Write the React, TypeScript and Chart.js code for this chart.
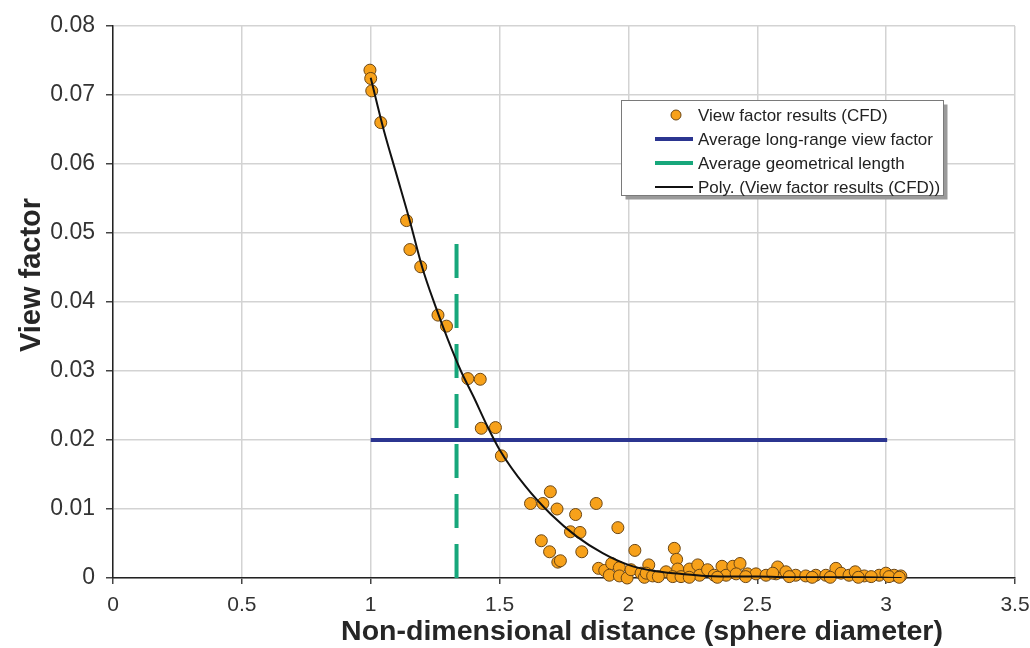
import React, { useEffect, useRef } from 'react';
import { Chart, registerables } from 'chart.js';

Chart.register(...registerables);

// ---- Data ----
const cfdX = [
  0.997, 1.000, 1.004, 1.039, 1.139, 1.152, 1.194, 1.261, 1.294, 1.377,
  1.425, 1.429, 1.484, 1.507, 1.620, 1.668, 1.697, 1.723, 1.795, 1.775,
  1.812, 1.875, 1.662, 1.694, 1.819, 1.726, 1.736, 1.959, 2.025, 1.884,
  1.908, 1.935, 1.926, 1.965, 1.965, 1.995, 2.010, 2.049, 2.062, 2.178,
  2.187, 2.191, 2.079, 2.069, 2.094, 2.146, 2.172, 2.204, 2.237, 2.269,
  2.276, 2.307, 2.333, 2.363, 2.379, 2.405, 2.433, 2.418, 2.462, 2.495,
  2.534, 2.573, 2.579, 2.560, 2.611, 2.649, 2.688, 2.727, 2.766, 2.805,
  2.825, 2.856, 2.880, 2.915, 2.973, 2.999, 3.031, 3.057, 2.624, 2.713,
  2.783, 2.116, 2.236, 2.455, 2.892, 2.942, 3.011, 3.051, 2.345,
];
const cfdY = [
  0.0736, 0.0724, 0.0706, 0.0660, 0.0518, 0.0476, 0.0451, 0.0381, 0.0365, 0.0289,
  0.0288, 0.0217, 0.0218, 0.0177, 0.0108, 0.0108, 0.0125, 0.0100, 0.0092, 0.0067,
  0.0066, 0.0108, 0.0054, 0.0038, 0.0038, 0.0023, 0.0025, 0.0073, 0.0040, 0.0014,
  0.0011, 0.0021, 0.0004, 0.0015, 0.0003, 0.0000, 0.0012, 0.0007, 0.0001, 0.0043,
  0.0027, 0.0013, 0.0019, 0.0007, 0.0003, 0.0009, 0.0002, 0.0002, 0.0013, 0.0019,
  0.0004, 0.0012, 0.0004, 0.0017, 0.0004, 0.0017, 0.0021, 0.0006, 0.0006, 0.0006,
  0.0004, 0.0006, 0.0016, 0.0007, 0.0009, 0.0004, 0.0003, 0.0004, 0.0004, 0.0014,
  0.0007, 0.0004, 0.0009, 0.0003, 0.0004, 0.0007, 0.0004, 0.0003, 0.0002, 0.0001,
  0.0001, 0.0002, 0.0001, 0.0002, 0.0001, 0.0002, 0.0002, 0.0001, 0.0001,
];

// Polynomial trendline
const polyX = [1.0, 1.05, 1.1, 1.15, 1.2, 1.25, 1.3, 1.35, 1.4, 1.45, 1.5, 1.6, 1.7, 1.8, 1.9, 2.0, 2.1, 2.2, 2.3, 2.5, 2.7, 2.9, 3.06];
const polyY = [0.0725, 0.0650, 0.0585, 0.0520, 0.0450, 0.0395, 0.0345, 0.0300, 0.0262, 0.0222, 0.0186, 0.0133, 0.0092, 0.0060, 0.0036, 0.0019, 0.0010, 0.0006, 0.0003, 0.0002, 0.0001, 0.0001, 0.0000];

const avgViewX = [1.0, 3.004];
const avgViewY = [0.02, 0.02];

const geomLenX = [1.333, 1.333];
const geomLenY = [0, 0.0487];

const seriesLabels = [
  'View factor results (CFD)',
  'Average long-range view factor',
  'Average geometrical length',
  'Poly. (View factor results (CFD))',
];

const xAxisTitle = 'Non-dimensional distance (sphere diameter)';
const yAxisTitle = 'View factor';

const X_MIN = 0, X_MAX = 3.5, X_STEP = 0.5;
const Y_MIN = 0, Y_MAX = 0.08, Y_STEP = 0.01;

const zip = (xs: number[], ys: number[]) => xs.map((x, i) => ({ x, y: ys[i] }));

const FONT = '"Liberation Sans", Arial, sans-serif';

const decorPlugin = {
  id: 'decor',
  afterDraw(chart: any) {
    const ctx = chart.ctx as CanvasRenderingContext2D;
    const ds = chart.data.datasets;
    ctx.save();
    // axis titles
    ctx.fillStyle = '#262626';
    ctx.textAlign = 'center';
    ctx.textBaseline = 'middle';
    ctx.font = `bold 28.5px ${FONT}`;
    ctx.fillText(xAxisTitle, 642, 632);
    ctx.save();
    ctx.font = `bold 29px ${FONT}`;
    ctx.translate(32, 275);
    ctx.rotate(-Math.PI / 2);
    ctx.fillText(yAxisTitle, 0, 0);
    ctx.restore();

    // legend box
    const lx = 621.5, ly = 100.5, lw = 322, lh = 95;
    ctx.fillStyle = '#9a9a9a';
    ctx.fillRect(lx + 4, ly + 4, lw, lh);
    ctx.fillStyle = '#ffffff';
    ctx.fillRect(lx, ly, lw, lh);
    ctx.strokeStyle = '#7a7a7a';
    ctx.lineWidth = 1;
    ctx.strokeRect(lx, ly, lw, lh);

    const rowY = [115, 139, 163, 187];
    ctx.font = `17px ${FONT}`;
    ctx.textAlign = 'left';
    ctx.textBaseline = 'middle';
    ds.forEach((d: any, i: number) => {
      const y = rowY[i];
      if (d.showLine === false) {
        ctx.beginPath();
        ctx.arc(676, y, 5, 0, Math.PI * 2);
        ctx.fillStyle = d.backgroundColor;
        ctx.fill();
        ctx.strokeStyle = d.borderColor;
        ctx.lineWidth = 1;
        ctx.stroke();
      } else {
        ctx.beginPath();
        ctx.moveTo(655, y);
        ctx.lineTo(693, y);
        ctx.strokeStyle = d.borderColor;
        ctx.lineWidth = d.borderWidth;
        ctx.setLineDash([]);
        ctx.stroke();
      }
      ctx.fillStyle = '#222';
      ctx.fillText(d.label, 698, y + 1);
    });
    ctx.restore();
  },
};

export default function App() {
  const ref = useRef<HTMLCanvasElement | null>(null);

  useEffect(() => {
    document.body.style.margin = '0';
    if (!ref.current) return;
    const chart = new Chart(ref.current, {
      type: 'scatter',
      data: {
        datasets: [
          {
            label: seriesLabels[0],
            data: zip(cfdX, cfdY),
            showLine: false,
            pointRadius: 6,
            pointHoverRadius: 6,
            backgroundColor: '#f7a11a',
            borderColor: '#6b4614',
            borderWidth: 1,
            clip: false,
            order: 3,
          },
          {
            label: seriesLabels[1],
            data: zip(avgViewX, avgViewY),
            showLine: true,
            pointRadius: 0,
            borderColor: '#2b3590',
            backgroundColor: '#2b3590',
            borderWidth: 4,
            order: 2,
          },
          {
            label: seriesLabels[2],
            data: zip(geomLenX, geomLenY),
            showLine: true,
            pointRadius: 0,
            borderColor: '#17a77b',
            backgroundColor: '#17a77b',
            borderWidth: 4,
            borderDash: [34, 16],
            borderCapStyle: 'butt',
            order: 1,
          },
          {
            label: seriesLabels[3],
            data: zip(polyX, polyY),
            showLine: true,
            pointRadius: 0,
            borderColor: '#111111',
            backgroundColor: '#111111',
            borderWidth: 2,
            cubicInterpolationMode: 'monotone',
            order: 0,
          },
        ] as any,
      },
      options: {
        animation: false,
        responsive: false,
        maintainAspectRatio: false,
        layout: { padding: { top: 26, right: 15, bottom: 0, left: 0 } },
        plugins: {
          legend: { display: false },
          tooltip: { enabled: false },
          title: { display: false },
        },
        scales: {
          x: {
            type: 'linear',
            min: X_MIN,
            max: X_MAX,
            afterFit: (s: any) => { s.height = 70; s.paddingRight = 0; s.paddingLeft = 0; },
            ticks: {
              stepSize: X_STEP,
              color: '#333',
              font: { family: FONT, size: 21 },
              padding: 9,
              maxRotation: 0,
              callback: (v: any) => String(Number(v)),
            },
            grid: { color: '#d3d3d3', lineWidth: 1.5, tickLength: 6, tickColor: '#444' },
            border: { display: true, color: '#222', width: 1.5 },
          },
          y: {
            type: 'linear',
            min: Y_MIN,
            max: Y_MAX,
            afterFit: (s: any) => { s.width = 113; },
            ticks: {
              stepSize: Y_STEP,
              color: '#333',
              font: { family: FONT, size: 23 },
              padding: 11,
              callback: (v: any) => (Number(v) === 0 ? '0' : Number(v).toFixed(2)),
            },
            grid: { color: '#d3d3d3', lineWidth: 1.5, tickLength: 7, tickColor: '#444' },
            border: { display: true, color: '#222', width: 1.5 },
          },
        },
      } as any,
      plugins: [decorPlugin],
    });
    return () => chart.destroy();
  }, []);

  return (
    <div style={{ width: 1030, height: 648, position: 'relative', background: '#fff' }}>
      <canvas ref={ref} width={1030} height={648} />
    </div>
  );
}
